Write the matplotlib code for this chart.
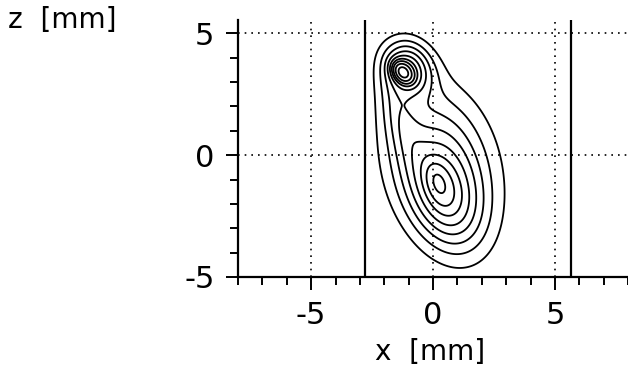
import numpy as np
import matplotlib
matplotlib.use("Agg")
import matplotlib.pyplot as plt

# beam profile model: elongated Gaussian blobs (x, z in mm)
blob_x = [0.35, 0.5, 0.2, -1.25, -1.0, -1.4]
blob_z = [-0.3, -1.9, -1.1, 3.4, 3.6, 1.7]
blob_along = [2.3, 1.5, 0.55, 0.35, 0.8, 1.4]
blob_perp = [1.5, 0.95, 0.3, 0.25, 0.65, 0.5]
blob_angle = [16.0, 22.0, 18.0, 40.0, 25.0, 15.0]   # degrees from z axis
blob_amp = [0.7, 0.55, 0.25, 0.8, 0.8, 0.3]

levels = [0.2, 0.35, 0.5, 0.65, 0.8, 0.95, 1.1, 1.3, 1.55, 1.85]

aperture_x = [-2.8, 5.65]
grid_x = [-5, 0, 5]
grid_z = [0, 5]

xs = np.linspace(-8, 8, 400)
zs = np.linspace(-5, 5.6, 300)
X, Z = np.meshgrid(xs, zs)
field = np.zeros_like(X)
for x0, z0, sa, sp, ang, amp in zip(blob_x, blob_z, blob_along, blob_perp, blob_angle, blob_amp):
    t = np.radians(ang)
    u = (X - x0) * np.sin(t) - (Z - z0) * np.cos(t)
    v = (X - x0) * np.cos(t) + (Z - z0) * np.sin(t)
    field += amp * np.exp(-0.5 * ((u / sa) ** 2 + (v / sp) ** 2))

plt.rcParams['font.family'] = ['DejaVu Sans']

fig = plt.figure(figsize=(6.28, 3.74), dpi=100)
ax = fig.add_axes([238 / 628, 1 - 277 / 374, 1 - 238 / 628, (277 - 20) / 374])

ax.contour(X, Z, field, levels=levels, colors='black', linewidths=1.3)

for gx in grid_x:
    ax.axvline(gx, color='black', lw=1.2, ls=(0, (1, 3)))
for gz in grid_z:
    ax.axhline(gz, color='black', lw=1.2, ls=(0, (1, 3)))
for axp in aperture_x:
    ax.axvline(axp, color='black', lw=1.6)

ax.set_xlim(-8, 8)
ax.set_ylim(-5, 5.55)
ax.spines['top'].set_visible(False)
ax.spines['right'].set_visible(False)
ax.spines['left'].set_linewidth(1.6)
ax.spines['bottom'].set_linewidth(1.6)
ax.set_xticks([-5, 0, 5])
ax.set_xticks(range(-8, 9), minor=True)
ax.set_yticks([-5, 0, 5])
ax.set_yticks(range(-5, 6), minor=True)
ax.tick_params(which='major', length=9, width=1.4, labelsize=22, pad=8)
ax.tick_params(which='minor', length=6, width=1.4)
ax.set_xticklabels(['-5', '0', '5'])
ax.set_yticklabels(['-5', '0', '5'])

fig.text(8 / 628, 1 - 20 / 374, 'z  [mm]', fontsize=20, ha='left', va='center')
fig.text(430 / 628, 1 - 352 / 374, 'x  [mm]', fontsize=20, ha='center', va='center')

fig.savefig('out.png', dpi=100)
